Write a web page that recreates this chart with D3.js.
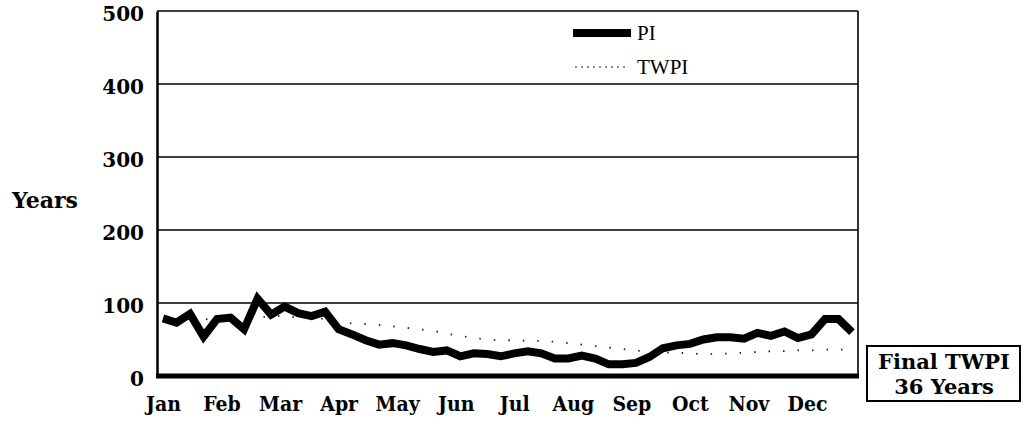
<!DOCTYPE html>
<html>
<head>
<meta charset="utf-8">
<script src="https://cdn.jsdelivr.net/npm/d3@7"></script>
<style>
  html, body { margin: 0; padding: 0; background: #fff; }
  svg { display: block; }
</style>
</head>
<body>
<svg id="chart" width="1027" height="429"></svg>
<script>
// ---- Data ----
const months = ["Jan","Feb","Mar","Apr","May","Jun","Jul","Aug","Sep","Oct","Nov","Dec"];
const yTicks = [0, 100, 200, 300, 400, 500];
// weekly PI values (years), 52 weeks
const piValues = [79,73,85,54,78,80,64,106,84,95,86,82,88,
                  64,57,49,43,45,42,37,33,35,27,31,30,27,
                  31,34,31,24,24,28,24,16,16,18,26,38,42,
                  44,50,53,53,51,59,55,61,52,57,78,78,60];
// weekly TWPI values (years)
const twpiValues = [79,76,80,78,77,78,76,80,82,82,80,80,78,
                    74,72,71,70,68,66,64,62,58,55,52,50,49,
                    49,48,48,47,45,43,41,39,37,35,33,32,32,
                    31,30,30,31,32,33,34,34,35,35,36,36,36];
const seriesNames = ["PI", "TWPI"];
const finalTWPI = 36;

// ---- Layout ----
const svg = d3.select("#chart");
const plot = {left: 157, right: 858, top: 11, bottom: 376};
const x = d3.scaleLinear().domain([0, piValues.length - 1]).range([163, 852]);
const y = d3.scaleLinear().domain([0, 500]).range([plot.bottom, plot.top]);
const serifB = "'DejaVu Serif', 'Liberation Serif', serif";
const serifC = "'DejaVu Serif Condensed', 'DejaVu Serif', serif";
const serifL = "'Liberation Serif', serif";

// gridlines
svg.append("g").selectAll("line").data(yTicks.filter(d => d > 0)).join("line")
  .attr("x1", plot.left).attr("x2", plot.right)
  .attr("y1", d => y(d)).attr("y2", d => y(d))
  .attr("stroke", "#000").attr("stroke-width", 1.6);

// right border
svg.append("line").attr("x1", plot.right).attr("x2", plot.right)
  .attr("y1", plot.top).attr("y2", plot.bottom)
  .attr("stroke", "#000").attr("stroke-width", 1.6);

// y axis
const yAxis = d3.axisLeft(y).tickValues(yTicks).tickSize(0).tickPadding(13);
const gy = svg.append("g").attr("transform", `translate(${plot.left},0)`).call(yAxis);
gy.select(".domain").attr("stroke", "#000").attr("stroke-width", 2.5);
gy.selectAll("text").attr("font-family", serifB).attr("font-weight", "bold")
  .attr("font-size", 20).attr("fill", "#000").attr("dy", "0.45em");

// x axis (month labels)
const monthPos = months.map((m, i) => i * (piValues.length) / 12);
const xAxis = d3.axisBottom(x).tickValues(monthPos).tickFormat((d, i) => months[i]).tickSize(0).tickPadding(20);
const gx = svg.append("g").attr("transform", `translate(0,${plot.bottom})`).call(xAxis);
gx.select(".domain").remove();
gx.selectAll("text").attr("font-family", serifC).attr("font-weight", "bold")
  .attr("font-size", 21).attr("fill", "#000");
svg.append("line").attr("x1", plot.left - 1).attr("x2", plot.right + 1)
  .attr("y1", plot.bottom).attr("y2", plot.bottom)
  .attr("stroke", "#000").attr("stroke-width", 5);

// Years label
svg.append("text").attr("x", 45).attr("y", 208).attr("text-anchor", "middle")
  .attr("font-family", serifB).attr("font-weight", "bold").attr("font-size", 22)
  .text("Years");

// lines
const line = d3.line().x((d, i) => x(i)).y(d => y(d));
svg.append("path").datum(twpiValues).attr("d", line)
  .attr("fill", "none").attr("stroke", "#222").attr("stroke-width", 1.8)
  .attr("stroke-dasharray", "1.5,13");
svg.append("path").datum(piValues).attr("d", line)
  .attr("fill", "none").attr("stroke", "#000").attr("stroke-width", 8)
  .attr("stroke-linejoin", "miter");

// legend
const lg = svg.append("g");
lg.append("line").attr("x1", 573).attr("x2", 631).attr("y1", 33).attr("y2", 33)
  .attr("stroke", "#000").attr("stroke-width", 8);
lg.append("text").attr("x", 637).attr("y", 40).attr("font-family", serifL)
  .attr("font-size", 21).text(seriesNames[0]);
lg.append("line").attr("x1", 575).attr("x2", 628).attr("y1", 67).attr("y2", 67)
  .attr("stroke", "#666").attr("stroke-width", 1.5).attr("stroke-dasharray", "2,4");
lg.append("text").attr("x", 637).attr("y", 74).attr("font-family", serifL)
  .attr("font-size", 21).text(seriesNames[1]);

// Final TWPI box
const bx = svg.append("g");
bx.append("rect").attr("x", 867).attr("y", 346).attr("width", 153).attr("height", 55)
  .attr("fill", "#fff").attr("stroke", "#000").attr("stroke-width", 2);
bx.append("text").attr("x", 944).attr("y", 369).attr("text-anchor", "middle")
  .attr("font-family", serifB).attr("font-weight", "bold").attr("font-size", 21)
  .text("Final TWPI");
bx.append("text").attr("x", 944).attr("y", 394).attr("text-anchor", "middle")
  .attr("font-family", serifB).attr("font-weight", "bold").attr("font-size", 21)
  .text(`${finalTWPI} Years`);
</script>
</body>
</html>
